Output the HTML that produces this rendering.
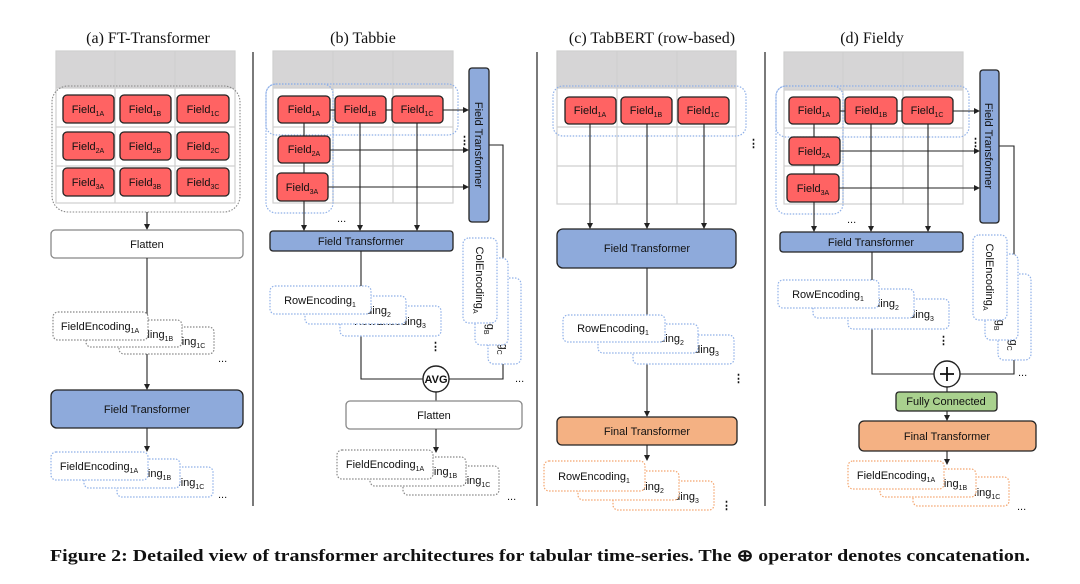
<!DOCTYPE html>
<html><head><meta charset="utf-8"><style>
html,body{margin:0;padding:0;background:#fff;}
svg{display:block;}
.t{font-family:"Liberation Sans",sans-serif;font-size:11px;fill:#111;}
.ti{font-family:"Liberation Serif",serif;font-size:16px;fill:#111;}
.f{fill:#ff6363;stroke:#222;stroke-width:1.3;}
.g{fill:#d6d5d6;}
.gl{stroke:#cfcfcf;stroke-width:1.2;fill:none;}
.bd{fill:none;stroke:#8fb0e8;stroke-width:1.2;stroke-dasharray:1.5 1.5;}
.bw{fill:#fff;stroke:#8fb0e8;stroke-width:1.2;stroke-dasharray:1.5 1.5;}
.gw{fill:#fff;stroke:#888;stroke-width:1.2;stroke-dasharray:1.5 1.5;}
.ow{fill:#fff;stroke:#f4a56e;stroke-width:1.2;stroke-dasharray:1.5 1.5;}
.ft{fill:#8eaadb;stroke:#222;stroke-width:1.3;}
.fin{fill:#f4b183;stroke:#222;stroke-width:1.3;}
.fl{fill:#fff;stroke:#888;stroke-width:1.3;}
.ln{stroke:#222;stroke-width:1.1;fill:none;}
.sep{stroke:#222;stroke-width:1.2;}
</style></head><body>
<svg width="1080" height="584" viewBox="0 0 1080 584" xmlns="http://www.w3.org/2000/svg">
<defs>
<marker id="ar" markerWidth="6" markerHeight="6" refX="5" refY="3" orient="auto" markerUnits="userSpaceOnUse"><path d="M0,0 L6,3 L0,6 z" fill="#222"/></marker>
</defs>

<line class="sep" x1="253" y1="52" x2="253" y2="506"/>
<line class="sep" x1="537" y1="52" x2="537" y2="506"/>
<line class="sep" x1="765" y1="52" x2="765" y2="506"/>

<text class="ti" x="148" y="43" text-anchor="middle">(a) FT-Transformer</text>
<text class="ti" x="363" y="43" text-anchor="middle">(b) Tabbie</text>
<text class="ti" x="652" y="43" text-anchor="middle">(c) TabBERT (row-based)</text>
<text class="ti" x="872" y="43" text-anchor="middle">(d) Fieldy</text>

<!-- (a) -->
<rect class="g" x="56" y="51" width="179" height="37"/>
<rect class="gl" x="56" y="51" width="179" height="152"/>
<line class="gl" x1="115" y1="51" x2="115" y2="203"/><line class="gl" x1="175" y1="51" x2="175" y2="203"/>
<line class="gl" x1="56" y1="88" x2="235" y2="88"/><line class="gl" x1="56" y1="127" x2="235" y2="127"/><line class="gl" x1="56" y1="166" x2="235" y2="166"/>
<rect x="52" y="86" width="188" height="126" rx="16" fill="none" stroke="#888" stroke-width="1.1" stroke-dasharray="1.5 1.5"/>
<rect class="f" x="63" y="95" width="51" height="28" rx="4"/><text class="t" x="88" y="113" text-anchor="middle">Field<tspan font-size="7" dy="3">1A</tspan></text>
<rect class="f" x="120" y="95" width="51" height="28" rx="4"/><text class="t" x="145" y="113" text-anchor="middle">Field<tspan font-size="7" dy="3">1B</tspan></text>
<rect class="f" x="177" y="95" width="52" height="28" rx="4"/><text class="t" x="203" y="113" text-anchor="middle">Field<tspan font-size="7" dy="3">1C</tspan></text>
<rect class="f" x="63" y="132" width="51" height="28" rx="4"/><text class="t" x="88" y="150" text-anchor="middle">Field<tspan font-size="7" dy="3">2A</tspan></text>
<rect class="f" x="120" y="132" width="51" height="28" rx="4"/><text class="t" x="145" y="150" text-anchor="middle">Field<tspan font-size="7" dy="3">2B</tspan></text>
<rect class="f" x="177" y="132" width="52" height="28" rx="4"/><text class="t" x="203" y="150" text-anchor="middle">Field<tspan font-size="7" dy="3">2C</tspan></text>
<rect class="f" x="63" y="168" width="51" height="28" rx="4"/><text class="t" x="88" y="186" text-anchor="middle">Field<tspan font-size="7" dy="3">3A</tspan></text>
<rect class="f" x="120" y="168" width="51" height="28" rx="4"/><text class="t" x="145" y="186" text-anchor="middle">Field<tspan font-size="7" dy="3">3B</tspan></text>
<rect class="f" x="177" y="168" width="52" height="28" rx="4"/><text class="t" x="203" y="186" text-anchor="middle">Field<tspan font-size="7" dy="3">3C</tspan></text>
<line class="ln" x1="147" y1="212" x2="147" y2="229" marker-end="url(#ar)"/>
<rect class="fl" x="51" y="230" width="192" height="28" rx="4"/><text class="t" x="147" y="248" text-anchor="middle">Flatten</text>
<line class="ln" x1="147" y1="258" x2="147" y2="389" marker-end="url(#ar)"/>
<rect class="gw" x="119" y="327" width="95" height="27" rx="5"/><text class="t" x="166" y="345" text-anchor="middle">FieldEncoding<tspan font-size="7" dy="3">1C</tspan></text>
<rect class="gw" x="86" y="320" width="96" height="27" rx="5"/><text class="t" x="134" y="338" text-anchor="middle">FieldEncoding<tspan font-size="7" dy="3">1B</tspan></text>
<rect class="gw" x="53" y="312" width="95" height="28" rx="5"/><text class="t" x="100" y="330" text-anchor="middle">FieldEncoding<tspan font-size="7" dy="3">1A</tspan></text>
<text class="t" x="218" y="362">...</text>
<rect class="ft" x="51" y="390" width="192" height="38" rx="6"/><text class="t" x="147" y="413" text-anchor="middle">Field Transformer</text>
<line class="ln" x1="147" y1="428" x2="147" y2="451" marker-end="url(#ar)"/>
<rect class="bw" x="117" y="467" width="96" height="30" rx="5"/><text class="t" x="165" y="486" text-anchor="middle">FieldEncoding<tspan font-size="7" dy="3">1C</tspan></text>
<rect class="bw" x="84" y="459" width="96" height="29" rx="5"/><text class="t" x="132" y="477" text-anchor="middle">FieldEncoding<tspan font-size="7" dy="3">1B</tspan></text>
<rect class="bw" x="51" y="452" width="97" height="28" rx="5"/><text class="t" x="99" y="470" text-anchor="middle">FieldEncoding<tspan font-size="7" dy="3">1A</tspan></text>
<text class="t" x="218" y="498">...</text>

<!-- (b) -->
<rect class="g" x="273" y="51" width="180" height="37"/>
<rect class="gl" x="273" y="51" width="180" height="152"/>
<line class="gl" x1="333" y1="51" x2="333" y2="203"/><line class="gl" x1="393" y1="51" x2="393" y2="203"/>
<line class="gl" x1="273" y1="88" x2="453" y2="88"/><line class="gl" x1="273" y1="127" x2="453" y2="127"/><line class="gl" x1="273" y1="166" x2="453" y2="166"/>
<rect class="bd" x="266" y="84" width="67" height="129" rx="10"/>
<rect class="bd" x="266" y="84" width="192" height="51" rx="10"/>
<line class="ln" x1="304" y1="123" x2="304" y2="230" marker-end="url(#ar)"/>
<line class="ln" x1="360" y1="123" x2="360" y2="230" marker-end="url(#ar)"/>
<line class="ln" x1="417" y1="123" x2="417" y2="230" marker-end="url(#ar)"/>
<line class="ln" x1="443" y1="110" x2="468" y2="110" marker-end="url(#ar)"/>
<line class="ln" x1="330" y1="150" x2="468" y2="150" marker-end="url(#ar)"/>
<line class="ln" x1="328" y1="187" x2="468" y2="187" marker-end="url(#ar)"/>
<line class="ln" x1="330" y1="110" x2="335" y2="110"/><line class="ln" x1="386" y1="110" x2="392" y2="110"/>
<rect class="f" x="278" y="96" width="52" height="27" rx="4"/><text class="t" x="304" y="113" text-anchor="middle">Field<tspan font-size="7" dy="3">1A</tspan></text>
<rect class="f" x="335" y="96" width="51" height="27" rx="4"/><text class="t" x="360" y="113" text-anchor="middle">Field<tspan font-size="7" dy="3">1B</tspan></text>
<rect class="f" x="392" y="96" width="51" height="27" rx="4"/><text class="t" x="417" y="113" text-anchor="middle">Field<tspan font-size="7" dy="3">1C</tspan></text>
<rect class="f" x="278" y="136" width="52" height="27" rx="4"/><text class="t" x="304" y="153" text-anchor="middle">Field<tspan font-size="7" dy="3">2A</tspan></text>
<rect class="f" x="277" y="173" width="51" height="28" rx="4"/><text class="t" x="302" y="191" text-anchor="middle">Field<tspan font-size="7" dy="3">3A</tspan></text>
<text class="t" x="337" y="222">...</text>
<text class="t" x="459" y="144" font-weight="bold">⋮</text>
<rect class="ft" x="469" y="68" width="20" height="154" rx="3"/>
<text class="t" x="479" y="145" text-anchor="middle" transform="rotate(90 479 145)" dy="4">Field Transformer</text>
<rect class="ft" x="270" y="231" width="183" height="20" rx="3"/><text class="t" x="361" y="245" text-anchor="middle">Field Transformer</text>
<polyline class="ln" points="361,251 361,379 423,379"/>
<polyline class="ln" points="489,145 503,145 503,379 449,379"/>
<rect class="bw" x="340" y="306" width="101" height="30" rx="5"/><text class="t" x="390" y="325" text-anchor="middle">RowEncoding<tspan font-size="7" dy="3">3</tspan></text>
<rect class="bw" x="305" y="296" width="101" height="28" rx="5"/><text class="t" x="355" y="314" text-anchor="middle">RowEncoding<tspan font-size="7" dy="3">2</tspan></text>
<rect class="bw" x="270" y="286" width="101" height="28" rx="5"/><text class="t" x="320" y="304" text-anchor="middle">RowEncoding<tspan font-size="7" dy="3">1</tspan></text>
<text class="t" x="430" y="350" font-weight="bold">⋮</text>
<rect class="bw" x="488" y="278" width="33" height="86" rx="6"/><text class="t" x="504" y="321" text-anchor="middle" transform="rotate(90 504 321)" dy="4">ColEncoding<tspan font-size="7" dy="3">C</tspan></text>
<rect class="bw" x="475" y="258" width="33" height="87" rx="6"/><text class="t" x="491" y="301" text-anchor="middle" transform="rotate(90 491 301)" dy="4">ColEncoding<tspan font-size="7" dy="3">B</tspan></text>
<rect class="bw" x="463" y="238" width="34" height="85" rx="6"/><text class="t" x="480" y="280" text-anchor="middle" transform="rotate(90 480 280)" dy="4">ColEncoding<tspan font-size="7" dy="3">A</tspan></text>
<text class="t" x="515" y="382">...</text>
<circle cx="436" cy="379" r="13" fill="#fff" stroke="#222" stroke-width="1.4"/>
<text class="t" x="436" y="383" text-anchor="middle" font-weight="bold" font-size="10">AVG</text>
<line class="ln" x1="436" y1="392" x2="436" y2="401"/>
<rect class="fl" x="346" y="401" width="176" height="28" rx="4"/><text class="t" x="434" y="419" text-anchor="middle">Flatten</text>
<line class="ln" x1="436" y1="429" x2="436" y2="452" marker-end="url(#ar)"/>
<rect class="gw" x="403" y="466" width="96" height="29" rx="5"/><text class="t" x="451" y="484" text-anchor="middle">FieldEncoding<tspan font-size="7" dy="3">1C</tspan></text>
<rect class="gw" x="370" y="457" width="96" height="29" rx="5"/><text class="t" x="418" y="475" text-anchor="middle">FieldEncoding<tspan font-size="7" dy="3">1B</tspan></text>
<rect class="gw" x="337" y="450" width="96" height="29" rx="5"/><text class="t" x="385" y="468" text-anchor="middle">FieldEncoding<tspan font-size="7" dy="3">1A</tspan></text>
<text class="t" x="507" y="500">...</text>

<!-- (c) -->
<rect class="g" x="557" y="51" width="179" height="37"/>
<rect class="gl" x="557" y="51" width="179" height="153"/>
<line class="gl" x1="617" y1="51" x2="617" y2="204"/><line class="gl" x1="677" y1="51" x2="677" y2="204"/>
<line class="gl" x1="557" y1="88" x2="736" y2="88"/><line class="gl" x1="557" y1="127" x2="736" y2="127"/><line class="gl" x1="557" y1="166" x2="736" y2="166"/>
<rect class="bd" x="553" y="86" width="193" height="50" rx="10"/>
<line class="ln" x1="590" y1="124" x2="590" y2="228" marker-end="url(#ar)"/>
<line class="ln" x1="647" y1="124" x2="647" y2="228" marker-end="url(#ar)"/>
<line class="ln" x1="704" y1="124" x2="704" y2="228" marker-end="url(#ar)"/>
<rect class="f" x="565" y="97" width="51" height="27" rx="4"/><text class="t" x="590" y="114" text-anchor="middle">Field<tspan font-size="7" dy="3">1A</tspan></text>
<rect class="f" x="621" y="97" width="51" height="27" rx="4"/><text class="t" x="646" y="114" text-anchor="middle">Field<tspan font-size="7" dy="3">1B</tspan></text>
<rect class="f" x="678" y="97" width="51" height="27" rx="4"/><text class="t" x="703" y="114" text-anchor="middle">Field<tspan font-size="7" dy="3">1C</tspan></text>
<text class="t" x="748" y="147" font-weight="bold">⋮</text>
<rect class="ft" x="557" y="229" width="179" height="39" rx="6"/><text class="t" x="647" y="252" text-anchor="middle">Field Transformer</text>
<line class="ln" x1="647" y1="268" x2="647" y2="416" marker-end="url(#ar)"/>
<rect class="bw" x="633" y="335" width="101" height="29" rx="5"/><text class="t" x="683" y="353" text-anchor="middle">RowEncoding<tspan font-size="7" dy="3">3</tspan></text>
<rect class="bw" x="598" y="324" width="100" height="29" rx="5"/><text class="t" x="648" y="342" text-anchor="middle">RowEncoding<tspan font-size="7" dy="3">2</tspan></text>
<rect class="bw" x="563" y="315" width="102" height="27" rx="5"/><text class="t" x="613" y="332" text-anchor="middle">RowEncoding<tspan font-size="7" dy="3">1</tspan></text>
<text class="t" x="733" y="382" font-weight="bold">⋮</text>
<rect class="fin" x="557" y="417" width="180" height="28" rx="5"/><text class="t" x="647" y="435" text-anchor="middle">Final Transformer</text>
<line class="ln" x1="647" y1="445" x2="647" y2="460" marker-end="url(#ar)"/>
<rect class="ow" x="613" y="481" width="101" height="29" rx="5"/><text class="t" x="663" y="500" text-anchor="middle">RowEncoding<tspan font-size="7" dy="3">3</tspan></text>
<rect class="ow" x="578" y="471" width="101" height="29" rx="5"/><text class="t" x="628" y="490" text-anchor="middle">RowEncoding<tspan font-size="7" dy="3">2</tspan></text>
<rect class="ow" x="544" y="461" width="101" height="30" rx="5"/><text class="t" x="594" y="480" text-anchor="middle">RowEncoding<tspan font-size="7" dy="3">1</tspan></text>
<text class="t" x="721" y="509" font-weight="bold">⋮</text>

<!-- (d) -->
<rect class="g" x="784" y="52" width="179" height="38"/>
<rect class="gl" x="784" y="52" width="179" height="152"/>
<line class="gl" x1="843" y1="52" x2="843" y2="204"/><line class="gl" x1="903" y1="52" x2="903" y2="204"/>
<line class="gl" x1="784" y1="90" x2="963" y2="90"/><line class="gl" x1="784" y1="128" x2="963" y2="128"/><line class="gl" x1="784" y1="166" x2="963" y2="166"/>
<rect class="bd" x="776" y="86" width="67" height="128" rx="10"/>
<rect class="bd" x="776" y="86" width="193" height="51" rx="10"/>
<line class="ln" x1="814" y1="124" x2="814" y2="231" marker-end="url(#ar)"/>
<line class="ln" x1="871" y1="124" x2="871" y2="231" marker-end="url(#ar)"/>
<line class="ln" x1="928" y1="124" x2="928" y2="231" marker-end="url(#ar)"/>
<line class="ln" x1="953" y1="111" x2="979" y2="111" marker-end="url(#ar)"/>
<line class="ln" x1="840" y1="151" x2="979" y2="151" marker-end="url(#ar)"/>
<line class="ln" x1="839" y1="188" x2="979" y2="188" marker-end="url(#ar)"/>
<line class="ln" x1="840" y1="111" x2="845" y2="111"/><line class="ln" x1="897" y1="111" x2="902" y2="111"/>
<rect class="f" x="789" y="97" width="51" height="27" rx="4"/><text class="t" x="814" y="114" text-anchor="middle">Field<tspan font-size="7" dy="3">1A</tspan></text>
<rect class="f" x="845" y="97" width="52" height="27" rx="4"/><text class="t" x="871" y="114" text-anchor="middle">Field<tspan font-size="7" dy="3">1B</tspan></text>
<rect class="f" x="902" y="97" width="51" height="27" rx="4"/><text class="t" x="927" y="114" text-anchor="middle">Field<tspan font-size="7" dy="3">1C</tspan></text>
<rect class="f" x="789" y="137" width="51" height="28" rx="4"/><text class="t" x="814" y="155" text-anchor="middle">Field<tspan font-size="7" dy="3">2A</tspan></text>
<rect class="f" x="787" y="174" width="52" height="28" rx="4"/><text class="t" x="813" y="192" text-anchor="middle">Field<tspan font-size="7" dy="3">3A</tspan></text>
<text class="t" x="847" y="223">...</text>
<text class="t" x="970" y="146" font-weight="bold">⋮</text>
<rect class="ft" x="980" y="70" width="19" height="153" rx="3"/>
<text class="t" x="989" y="146" text-anchor="middle" transform="rotate(90 989 146)" dy="4">Field Transformer</text>
<rect class="ft" x="780" y="232" width="183" height="20" rx="3"/><text class="t" x="871" y="246" text-anchor="middle">Field Transformer</text>
<polyline class="ln" points="872,252 872,374 934,374"/>
<polyline class="ln" points="999,146 1014,146 1014,374 960,374"/>
<rect class="bw" x="848" y="299" width="101" height="30" rx="5"/><text class="t" x="898" y="318" text-anchor="middle">RowEncoding<tspan font-size="7" dy="3">3</tspan></text>
<rect class="bw" x="813" y="289" width="101" height="29" rx="5"/><text class="t" x="863" y="307" text-anchor="middle">RowEncoding<tspan font-size="7" dy="3">2</tspan></text>
<rect class="bw" x="778" y="280" width="101" height="28" rx="5"/><text class="t" x="828" y="298" text-anchor="middle">RowEncoding<tspan font-size="7" dy="3">1</tspan></text>
<text class="t" x="938" y="344" font-weight="bold">⋮</text>
<rect class="bw" x="998" y="274" width="33" height="86" rx="6"/><text class="t" x="1014" y="317" text-anchor="middle" transform="rotate(90 1014 317)" dy="4">ColEncoding<tspan font-size="7" dy="3">C</tspan></text>
<rect class="bw" x="985" y="254" width="33" height="86" rx="6"/><text class="t" x="1001" y="297" text-anchor="middle" transform="rotate(90 1001 297)" dy="4">ColEncoding<tspan font-size="7" dy="3">B</tspan></text>
<rect class="bw" x="973" y="235" width="34" height="85" rx="6"/><text class="t" x="990" y="277" text-anchor="middle" transform="rotate(90 990 277)" dy="4">ColEncoding<tspan font-size="7" dy="3">A</tspan></text>
<text class="t" x="1018" y="376">...</text>
<circle cx="947" cy="374" r="13" fill="#fff" stroke="#222" stroke-width="1.4"/>
<line x1="940" y1="374" x2="954" y2="374" stroke="#111" stroke-width="1.8"/><line x1="947" y1="367" x2="947" y2="381" stroke="#111" stroke-width="1.8"/>
<line class="ln" x1="947" y1="387" x2="947" y2="392"/>
<rect x="896" y="392" width="101" height="19" rx="3" fill="#a9d18e" stroke="#222" stroke-width="1.3"/><text class="t" x="946" y="405" text-anchor="middle">Fully Connected</text>
<line class="ln" x1="947" y1="411" x2="947" y2="420" marker-end="url(#ar)"/>
<rect class="fin" x="859" y="421" width="177" height="30" rx="5"/><text class="t" x="947" y="440" text-anchor="middle">Final Transformer</text>
<line class="ln" x1="947" y1="451" x2="947" y2="464" marker-end="url(#ar)"/>
<rect class="ow" x="913" y="477" width="96" height="29" rx="5"/><text class="t" x="961" y="496" text-anchor="middle">FieldEncoding<tspan font-size="7" dy="3">1C</tspan></text>
<rect class="ow" x="880" y="469" width="96" height="28" rx="5"/><text class="t" x="928" y="487" text-anchor="middle">FieldEncoding<tspan font-size="7" dy="3">1B</tspan></text>
<rect class="ow" x="848" y="461" width="96" height="28" rx="5"/><text class="t" x="896" y="479" text-anchor="middle">FieldEncoding<tspan font-size="7" dy="3">1A</tspan></text>
<text class="t" x="1017" y="510">...</text>

<text x="50" y="561" font-family="Liberation Serif, serif" font-weight="bold" font-size="16.5" fill="#111" textLength="980" lengthAdjust="spacingAndGlyphs">Figure 2: Detailed view of transformer architectures for tabular time-series. The ⊕ operator denotes concatenation.</text>
</svg>
</body></html>
